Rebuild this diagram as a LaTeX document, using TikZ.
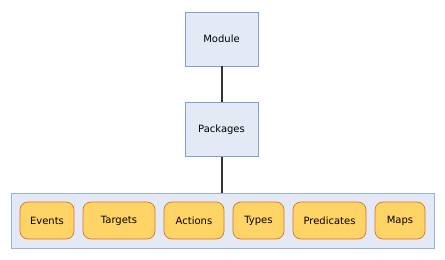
\documentclass[tikz,border=0pt]{standalone}
\usepackage{fontspec}
\setmainfont{DejaVu Sans}
\usepackage{xcolor}
\usetikzlibrary{positioning,fit,backgrounds}

\definecolor{boxfill}{HTML}{E3EAF6}
\definecolor{boxline}{HTML}{7F9FD6}
\definecolor{itemfill}{HTML}{FFD466}
\definecolor{itemline}{HTML}{E07020}

\begin{document}
\begin{tikzpicture}[
  x=1pt, y=1pt,
  node distance = 36pt and 9pt,
  block/.style  = {draw=boxline, fill=boxfill, minimum width=73pt,
                   minimum height=54pt, font=\fontsize{10}{12}\selectfont},
  item/.style   = {draw=itemline, fill=itemfill, rounded corners=8pt,
                   line width=0.7pt, outer sep=0pt, minimum height=37pt,
                   inner sep=0pt, font=\fontsize{10}{12}\selectfont},
  group/.style  = {draw=boxline!80, fill=boxfill, inner sep=9pt},
  link/.style   = {draw=black!80, line width=2pt}
]
  \useasboundingbox (0,0) rectangle (445,-260);

  % Top: module and packages
  \node[block] (module) at (221.5,-39) {Module};
  \node[block, below=of module] (packages) {Packages};

  % Bottom row: package contents
  \node[item, minimum width=54pt] (events) at (47,-220.5) {Events};
  \node[item, minimum width=72pt, right=of events]  (targets) {Targets};
  \node[item, minimum width=60pt, right=of targets] (actions) {Actions};
  \node[item, minimum width=51pt, right=of actions] (types) {Types};
  \node[item, minimum width=73pt, right=of types]   (predicates) {Predicates};
  \node[item, minimum width=50pt, right=of predicates] (maps) {Maps};

  \begin{scope}[on background layer]
    \node[group, fit=(events)(maps)] (contents) {};
  \end{scope}

  % Connectors
  \draw[link] (module) -- (packages);
  \draw[link] (packages.south) -- (packages.south |- contents.north);
\end{tikzpicture}
\end{document}
